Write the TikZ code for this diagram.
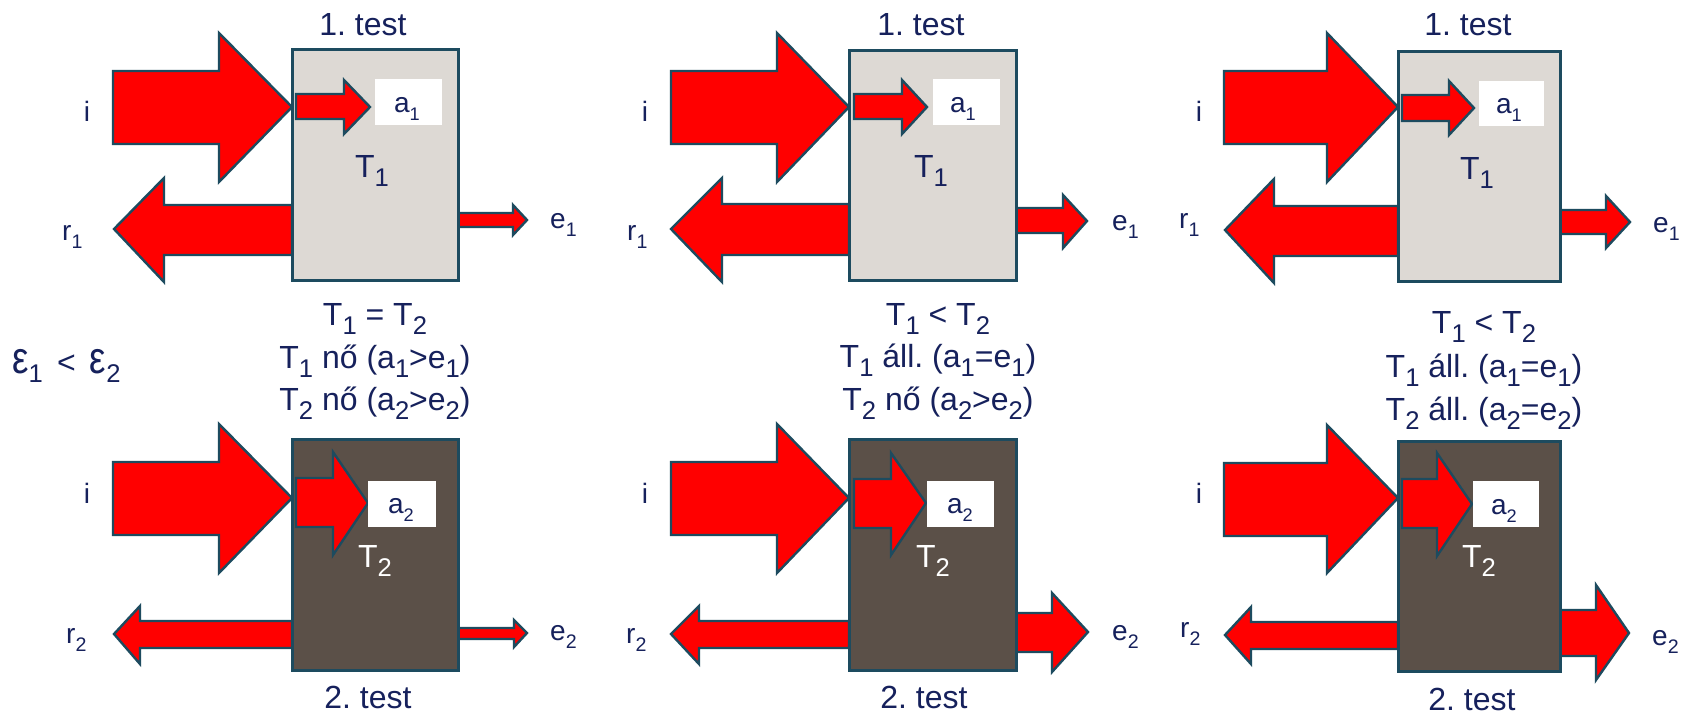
\documentclass[tikz,border=0pt]{standalone}
\usepackage{fontspec}
\setmainfont{Liberation Sans}
\usepackage{graphicx}
\frenchspacing
\definecolor{navy}{HTML}{16215C}
\definecolor{outl}{HTML}{1D4B5F}
\definecolor{boxlight}{HTML}{DDD9D4}
\definecolor{boxdark}{HTML}{5B5048}
\newcommand{\lo}[2]{\raisebox{-0.3em}{\scalebox{#1}{#2}}}
\newcommand{\bigeps}{\scalebox{1.15}[1.4]{ε}}
\newcommand{\barrow}[8]{\filldraw[arr] (#1,#4) -- (#2,#4) -- (#2,#6) -- (#3,#8) -- (#2,#7) -- (#2,#5) -- (#1,#5) -- cycle;}
\begin{document}
\begin{tikzpicture}[x=1pt,y=-1pt,
  arr/.style={fill=red, draw=outl, line width=2.4pt, line join=miter},
  lightbox/.style={fill=boxlight, draw=outl, line width=3pt},
  darkbox/.style={fill=boxdark, draw=outl, line width=3pt},
  whitebox/.style={fill=white, draw=none},
  txt/.style={text=navy, inner sep=0pt, font=\fontsize{32}{38}\selectfont},
  lbl/.style={text=navy, inner sep=0pt, font=\fontsize{28}{32}\selectfont},
  wtxt/.style={text=white, inner sep=0pt, font=\fontsize{32}{38}\selectfont}]
\useasboundingbox[fill=white] (0,0) rectangle (1695,715);

% ===== Panel 1 =====
\barrow{113}{219}{292}{71}{144}{33}{182}{107}
\barrow{292}{164}{114}{205}{255}{178}{282}{229}
\barrow{458}{513}{527}{213}{227}{205}{235}{220}
\draw[lightbox] (292,49) rectangle (458,280);
\barrow{296}{344}{370}{94}{119}{80}{134}{107}
\fill[whitebox] (375,79) rectangle (442,125);

\barrow{113}{219}{292}{462}{535}{424}{573}{498}
\barrow{292}{140}{114}{621}{648}{606}{664}{634}
\barrow{458}{514}{527}{628}{639}{620}{647}{633}
\draw[darkbox] (292,439) rectangle (458,670);
\barrow{296}{333}{368}{478}{527}{452}{555}{503}
\fill[whitebox] (368,481) rectangle (436,527);

\node[txt, anchor=base] (t1a) at (363,35) {1. test};
\node[lbl, anchor=base] (a1a) at (407,112) {a\lo{0.65}{1}};
\node[txt, anchor=base] (T1a) at (372,177) {T\lo{0.8}{1}};
\node[lbl, anchor=base] (i1a) at (87,121) {i};
\node[lbl, anchor=base west] (r1a) at (62,240) {r\lo{0.7}{1}};
\node[lbl, anchor=base west] (e1a) at (550,228) {e\lo{0.7}{1}};
\node[txt, anchor=base] (c1a) at (375,325) {T\lo{0.8}{1} = T\lo{0.8}{2}};
\node[txt, anchor=base] (c1b) at (375,368) {T\lo{0.8}{1} nő (a\lo{0.8}{1}>e\lo{0.8}{1})};
\node[txt, anchor=base] (c1c) at (375,410) {T\lo{0.8}{2} nő (a\lo{0.8}{2}>e\lo{0.8}{2})};
\node[txt, anchor=base west] (eps) at (12,373) {\bigeps\lo{0.8}{1} \,<\, \bigeps\lo{0.8}{2}};
\node[lbl, anchor=base] (a2a) at (401,513) {a\lo{0.65}{2}};
\node[wtxt, anchor=base] (T2a) at (375,567) {T\lo{0.8}{2}};
\node[lbl, anchor=base] (i2a) at (87,503) {i};
\node[lbl, anchor=base west] (r2a) at (66,643) {r\lo{0.7}{2}};
\node[lbl, anchor=base west] (e2a) at (550,640) {e\lo{0.7}{2}};
\node[txt, anchor=base] (t2a) at (368,708) {2. test};

% ===== Panel 2 =====
\barrow{671}{777}{849}{71}{144}{33}{182}{107}
\barrow{849}{722}{671}{204}{255}{178}{282}{229}
\barrow{1016}{1063}{1087}{208}{233}{195}{248}{221}
\draw[lightbox] (849,50) rectangle (1016,280);
\barrow{854}{902}{927}{94}{119}{80}{134}{107}
\fill[whitebox] (933,79) rectangle (1000,125);

\barrow{671}{777}{849}{462}{535}{424}{573}{498}
\barrow{849}{699}{671}{621}{648}{606}{664}{634}
\barrow{1016}{1052}{1088}{613}{652}{593}{672}{632}
\draw[darkbox] (849,439) rectangle (1016,670);
\barrow{854}{891}{926}{479}{528}{453}{555}{503}
\fill[whitebox] (927,481) rectangle (994,527);

\node[txt, anchor=base] (t1b) at (921,35) {1. test};
\node[lbl, anchor=base] (a1b) at (963,112) {a\lo{0.65}{1}};
\node[txt, anchor=base] (T1b) at (931,177) {T\lo{0.8}{1}};
\node[lbl, anchor=base] (i1b) at (645,121) {i};
\node[lbl, anchor=base west] (r1b) at (627,240) {r\lo{0.7}{1}};
\node[lbl, anchor=base west] (e1b) at (1112,230) {e\lo{0.7}{1}};
\node[txt, anchor=base] (c2a) at (938,325) {T\lo{0.8}{1} < T\lo{0.8}{2}};
\node[txt, anchor=base] (c2b) at (938,367) {T\lo{0.8}{1} áll. (a\lo{0.8}{1}=e\lo{0.8}{1})};
\node[txt, anchor=base] (c2c) at (938,410) {T\lo{0.8}{2} nő (a\lo{0.8}{2}>e\lo{0.8}{2})};
\node[lbl, anchor=base] (a2b) at (960,513) {a\lo{0.65}{2}};
\node[wtxt, anchor=base] (T2b) at (933,567) {T\lo{0.8}{2}};
\node[lbl, anchor=base] (i2b) at (645,503) {i};
\node[lbl, anchor=base west] (r2b) at (626,643) {r\lo{0.7}{2}};
\node[lbl, anchor=base west] (e2b) at (1112,640) {e\lo{0.7}{2}};
\node[txt, anchor=base] (t2b) at (924,708) {2. test};

% ===== Panel 3 =====
\barrow{1224}{1327}{1398}{71}{144}{33}{182}{107}
\barrow{1398}{1274}{1225}{206}{256}{179}{283}{230}
\barrow{1560}{1606}{1630}{210}{234}{196}{248}{222}
\draw[lightbox] (1398,51) rectangle (1560,281);
\barrow{1402}{1449}{1474}{95}{121}{81}{135}{108}
\fill[whitebox] (1479,81) rectangle (1544,126);

\barrow{1224}{1327}{1398}{463}{536}{425}{573}{498}
\barrow{1398}{1251}{1225}{622}{649}{607}{664}{635}
\barrow{1560}{1596}{1629}{610}{656}{585}{680}{633}
\draw[darkbox] (1398,441) rectangle (1560,671);
\barrow{1402}{1437}{1472}{479}{528}{453}{556}{504}
\fill[whitebox] (1473,481) rectangle (1539,527);

\node[txt, anchor=base] (t1c) at (1468,35) {1. test};
\node[lbl, anchor=base] (a1c) at (1509,113) {a\lo{0.65}{1}};
\node[txt, anchor=base] (T1c) at (1477,179) {T\lo{0.8}{1}};
\node[lbl, anchor=base] (i1c) at (1199,121) {i};
\node[lbl, anchor=base west] (r1c) at (1179,228) {r\lo{0.7}{1}};
\node[lbl, anchor=base west] (e1c) at (1653,232) {e\lo{0.7}{1}};
\node[txt, anchor=base] (c3a) at (1484,333) {T\lo{0.8}{1} < T\lo{0.8}{2}};
\node[txt, anchor=base] (c3b) at (1484,377) {T\lo{0.8}{1} áll. (a\lo{0.8}{1}=e\lo{0.8}{1})};
\node[txt, anchor=base] (c3c) at (1484,420) {T\lo{0.8}{2} áll. (a\lo{0.8}{2}=e\lo{0.8}{2})};
\node[lbl, anchor=base] (a2c) at (1504,514) {a\lo{0.65}{2}};
\node[wtxt, anchor=base] (T2c) at (1479,567) {T\lo{0.8}{2}};
\node[lbl, anchor=base] (i2c) at (1199,503) {i};
\node[lbl, anchor=base west] (r2c) at (1180,637) {r\lo{0.7}{2}};
\node[lbl, anchor=base west] (e2c) at (1652,645) {e\lo{0.7}{2}};
\node[txt, anchor=base] (t2c) at (1472,710) {2. test};
\end{tikzpicture}
\end{document}
